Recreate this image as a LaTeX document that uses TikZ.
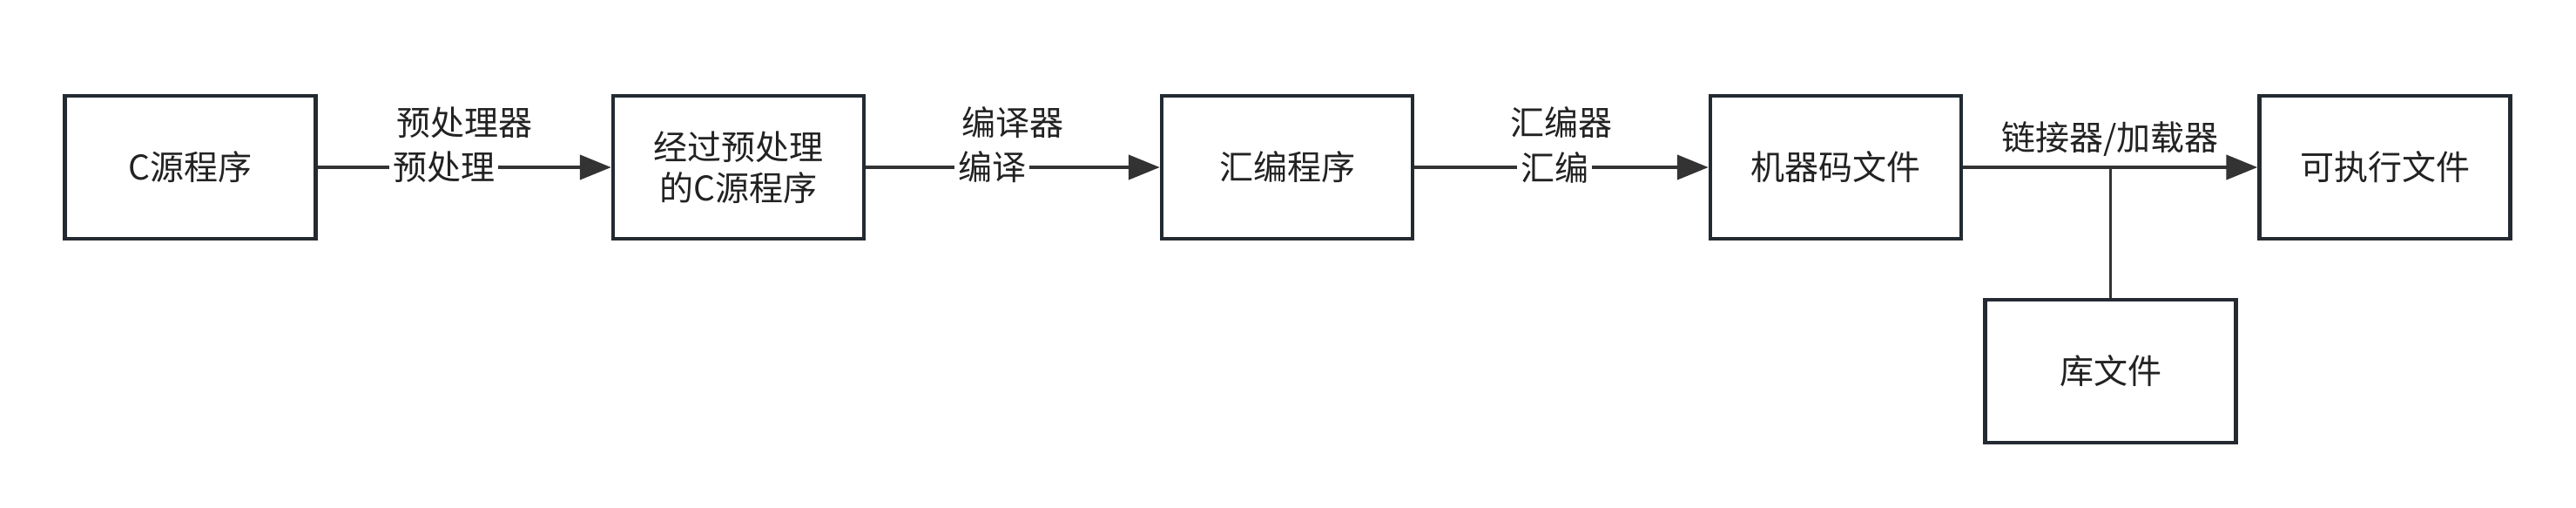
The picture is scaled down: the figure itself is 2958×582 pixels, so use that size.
\documentclass[tikz,border=0pt]{standalone}
\usepackage{fontspec}
\setmainfont{Noto Sans CJK SC}
\usepackage{tikz}
\usetikzlibrary{arrows.meta}
\definecolor{boxline}{HTML}{232A31}
\definecolor{edgeline}{HTML}{333333}
\definecolor{txt}{HTML}{222222}

\begin{document}
\begin{tikzpicture}[line join=miter,>={Triangle[length=9pt,width=7pt]},x=0.25pt,y=-0.25pt,
  stage/.style={draw=boxline,line width=1.1pt,minimum width=72pt,minimum height=41pt,
    inner sep=0pt,align=center,text=txt,font=\fontsize{9.75pt}{11.75pt}\selectfont},
  edge/.style={draw=edgeline,line width=1.1pt},
  onlab/.style={fill=white,inner xsep=1pt,inner ysep=0pt,text=txt,font=\fontsize{9.75pt}{11.75pt}\selectfont},
  toplab/.style={midway,yshift=12.75pt,text=txt,font=\fontsize{9.75pt}{11.75pt}\selectfont}]

\useasboundingbox (0,0) rectangle (2958,582);

% stages
\node[stage] (src)  at (218.5,192) {C源程序};
\node[stage] (pre)  at (848,192)   {经过预处理\\的C源程序};
\node[stage] (asm)  at (1478,192)  {汇编程序};
\node[stage] (mach) at (2108,192)  {机器码文件};
\node[stage] (exe)  at (2738.5,192) {可执行文件};
\node[stage] (lib)  at (2423.5,426) {库文件};

% connectors
\draw[edge,->] (src) -- node[toplab]{预处理器} node[onlab,pos=0.43]{预处理} (pre);
\draw[edge,->] (pre) -- node[toplab]{编译器} node[onlab,pos=0.43]{编译} (asm);
\draw[edge,->] (asm) -- node[toplab]{汇编器} node[onlab,pos=0.477]{汇编} (mach);
\draw[edge,->] (mach) -- node[toplab,yshift=-4.75pt]{链接器/加载器} (exe);
\draw[draw=edgeline,line width=0.8pt] (lib.north) -- (lib.north |- mach.east);
\end{tikzpicture}
\end{document}
